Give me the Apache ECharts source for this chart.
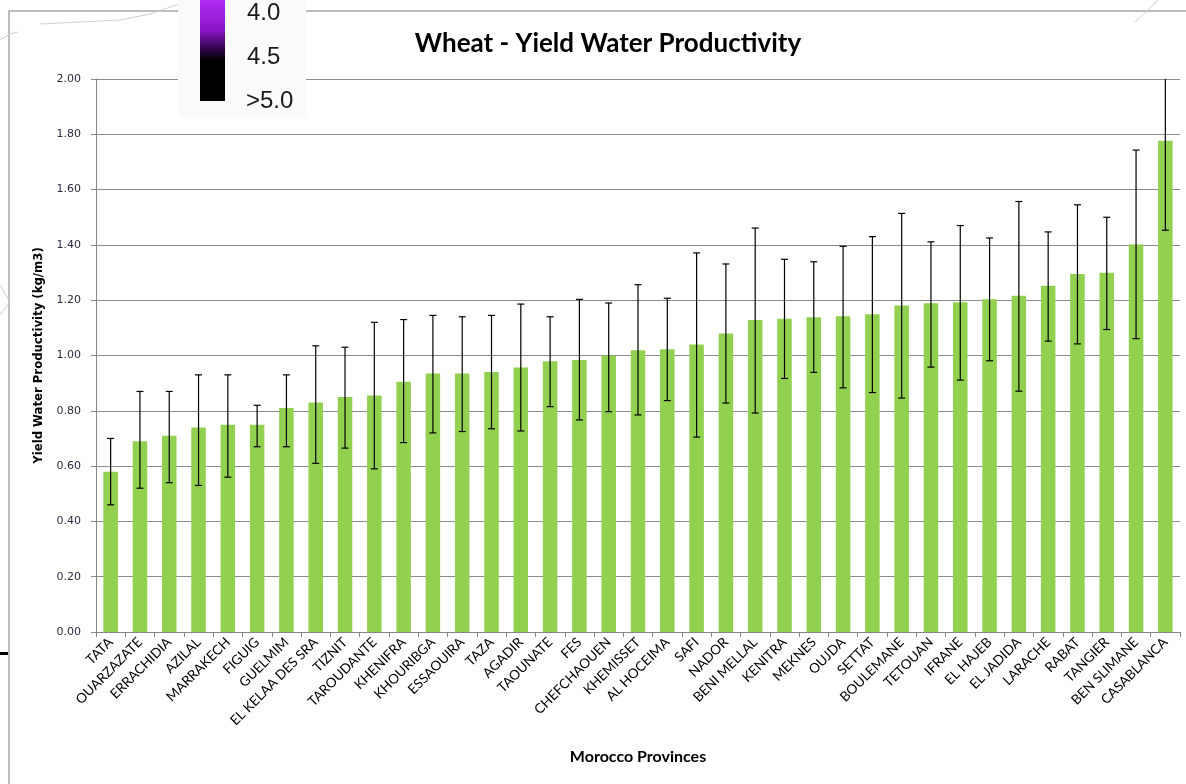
<!DOCTYPE html>
<html>
<head>
<meta charset="utf-8">
<script src="https://cdn.jsdelivr.net/npm/echarts@6/dist/echarts.min.js"></script>
<style>
html,body{margin:0;padding:0;background:#fff;}
#chart{width:1186px;height:784px;}
</style>
</head>
<body>
<div id="chart"></div>
<script>
const categories = ["TATA","OUARZAZATE","ERRACHIDIA","AZILAL","MARRAKECH","FIGUIG","GUELMIM","EL KELAA DES SRA","TIZNIT","TAROUDANTE","KHENIFRA","KHOURIBGA","ESSAOUIRA","TAZA","AGADIR","TAOUNATE","FES","CHEFCHAOUEN","KHEMISSET","AL HOCEIMA","SAFI","NADOR","BENI MELLAL","KENITRA","MEKNES","OUJDA","SETTAT","BOULEMANE","TETOUAN","IFRANE","EL HAJEB","EL JADIDA","LARACHE","RABAT","TANGIER","BEN SLIMANE","CASABLANCA"];
const yieldWP = [0.58,0.69,0.71,0.74,0.75,0.75,0.81,0.83,0.85,0.855,0.905,0.935,0.935,0.94,0.957,0.979,0.984,0.999,1.019,1.023,1.04,1.08,1.128,1.133,1.138,1.142,1.149,1.181,1.189,1.193,1.203,1.216,1.252,1.295,1.299,1.401,1.777];
const errLow = [0.46,0.52,0.54,0.53,0.56,0.67,0.67,0.61,0.665,0.59,0.685,0.72,0.725,0.735,0.727,0.815,0.767,0.797,0.785,0.837,0.705,0.828,0.792,0.917,0.939,0.883,0.866,0.846,0.958,0.911,0.981,0.871,1.052,1.042,1.094,1.061,1.453];
const errHigh = [0.70,0.87,0.87,0.93,0.93,0.82,0.93,1.035,1.03,1.12,1.13,1.145,1.14,1.145,1.186,1.14,1.203,1.19,1.256,1.207,1.371,1.331,1.461,1.348,1.339,1.395,1.43,1.514,1.411,1.47,1.425,1.557,1.447,1.545,1.50,1.743,2.10];
const yTicks = {min: 0, max: 2, interval: 0.2};
const legendLabels = ["4.0","4.5",">5.0"];

const errData = categories.map((c, i) => [i, errLow[i], errHigh[i]]);

const chart = echarts.init(document.getElementById('chart'), null, {renderer: 'canvas'});
const option = {
  backgroundColor: '#ffffff',
  animation: false,
  title: {
    text: 'Wheat - Yield Water Productivity',
    left: 603, top: 26, textAlign: 'center',
    textStyle: {fontFamily: 'Lato', fontWeight: 'bold', fontSize: 26, color: '#000'}
  },
  grid: {left: 96, right: 6, top: 79, bottom: 152, containLabel: false},
  xAxis: {
    type: 'category',
    data: categories,
    name: 'Morocco Provinces',
    nameLocation: 'middle',
    nameGap: 117,
    nameTextStyle: {fontFamily: 'Lato', fontWeight: 'bold', fontSize: 16, color: '#000'},
    axisLine: {lineStyle: {color: '#868686', width: 1}},
    axisTick: {show: true, length: 5, interval: 0, lineStyle: {color: '#868686'}},
    axisLabel: {interval: 0, rotate: 45, margin: 8, fontFamily: 'Lato', fontSize: 13.5, color: '#000'},
    splitLine: {show: false}
  },
  yAxis: {
    type: 'value',
    min: yTicks.min, max: yTicks.max, interval: yTicks.interval,
    name: 'Yield Water Productivity (kg/m3)',
    nameLocation: 'middle',
    nameGap: 50,
    nameTextStyle: {fontFamily: 'DejaVu Sans Condensed', fontWeight: 'bold', fontSize: 13, color: '#000'},
    axisLine: {show: true, lineStyle: {color: '#868686', width: 1}},
    axisTick: {show: true, length: 5, lineStyle: {color: '#868686'}},
    axisLabel: {margin: 15, fontFamily: 'DejaVu Sans', fontSize: 11, color: '#2b2b40',
      formatter: v => v.toFixed(2)},
    splitLine: {show: true, lineStyle: {color: '#8c8c8c', width: 1}}
  },
  series: [
    {
      type: 'bar',
      data: yieldWP,
      barWidth: 14.5,
      itemStyle: {color: '#92D050'},
      z: 2
    },
    {
      type: 'custom',
      data: errData,
      clip: true,
      z: 3,
      renderItem: function (params, api) {
        const i = api.value(0);
        const lo = api.coord([i, api.value(1)]);
        const hi = api.coord([i, api.value(2)]);
        const hw = 3.5;
        const style = {stroke: '#000', lineWidth: 1.2};
        return {
          type: 'group',
          children: [
            {type: 'line', shape: {x1: lo[0], y1: lo[1], x2: hi[0], y2: hi[1]}, style: style},
            {type: 'line', shape: {x1: lo[0]-hw, y1: lo[1], x2: lo[0]+hw, y2: lo[1]}, style: style},
            {type: 'line', shape: {x1: hi[0]-hw, y1: hi[1], x2: hi[0]+hw, y2: hi[1]}, style: style}
          ]
        };
      }
    }
  ],
  graphic: [
    {type: 'rect', shape: {x: 9, y: 11, width: 1200, height: 800}, style: {fill: 'none', stroke: '#a6a6a6', lineWidth: 1.5}, z: 0, silent: true},
    {type: 'rect', shape: {x: 0, y: 652, width: 8, height: 3}, style: {fill: '#000'}, silent: true},
    {type: 'polyline', shape: {points: [[40,24],[120,20],[150,14],[185,2],[200,0]]}, style: {stroke: '#d0d0d0', lineWidth: 1, fill: 'none'}, silent: true},
    {type: 'polyline', shape: {points: [[0,40],[10,34],[18,32]]}, style: {stroke: '#d0d0d0', lineWidth: 1, fill: 'none'}, silent: true},
    {type: 'polyline', shape: {points: [[1135,22],[1150,8],[1158,0]]}, style: {stroke: '#d0d0d0', lineWidth: 1, fill: 'none'}, silent: true},
    {type: 'polyline', shape: {points: [[0,285],[10,302],[0,315]]}, style: {stroke: '#d0d0d0', lineWidth: 1, fill: 'none'}, silent: true},
    {type: 'rect', shape: {x: 178, y: 0, width: 128, height: 118}, style: {fill: '#fbfbfb'}, z: 10, silent: true},
    {type: 'rect', shape: {x: 200, y: 0, width: 25, height: 101},
      style: {fill: new echarts.graphic.LinearGradient(0, 0, 0, 1, [
        {offset: 0, color: '#b22cf5'},
        {offset: 0.3, color: '#8a14c8'},
        {offset: 0.5, color: '#2a0540'},
        {offset: 0.6, color: '#000000'},
        {offset: 1, color: '#000000'}
      ])}, z: 11, silent: true},
    {type: 'text', x: 247, y: 13, style: {text: legendLabels[0], font: '24px Liberation Sans', fill: '#1a1a1a', verticalAlign: 'middle'}, z: 11, silent: true},
    {type: 'text', x: 247, y: 57, style: {text: legendLabels[1], font: '24px Liberation Sans', fill: '#1a1a1a', verticalAlign: 'middle'}, z: 11, silent: true},
    {type: 'text', x: 246, y: 101, style: {text: legendLabels[2], font: '24px Liberation Sans', fill: '#1a1a1a', verticalAlign: 'middle'}, z: 11, silent: true}
  ]
};
chart.setOption(option);
</script>
</body>
</html>
